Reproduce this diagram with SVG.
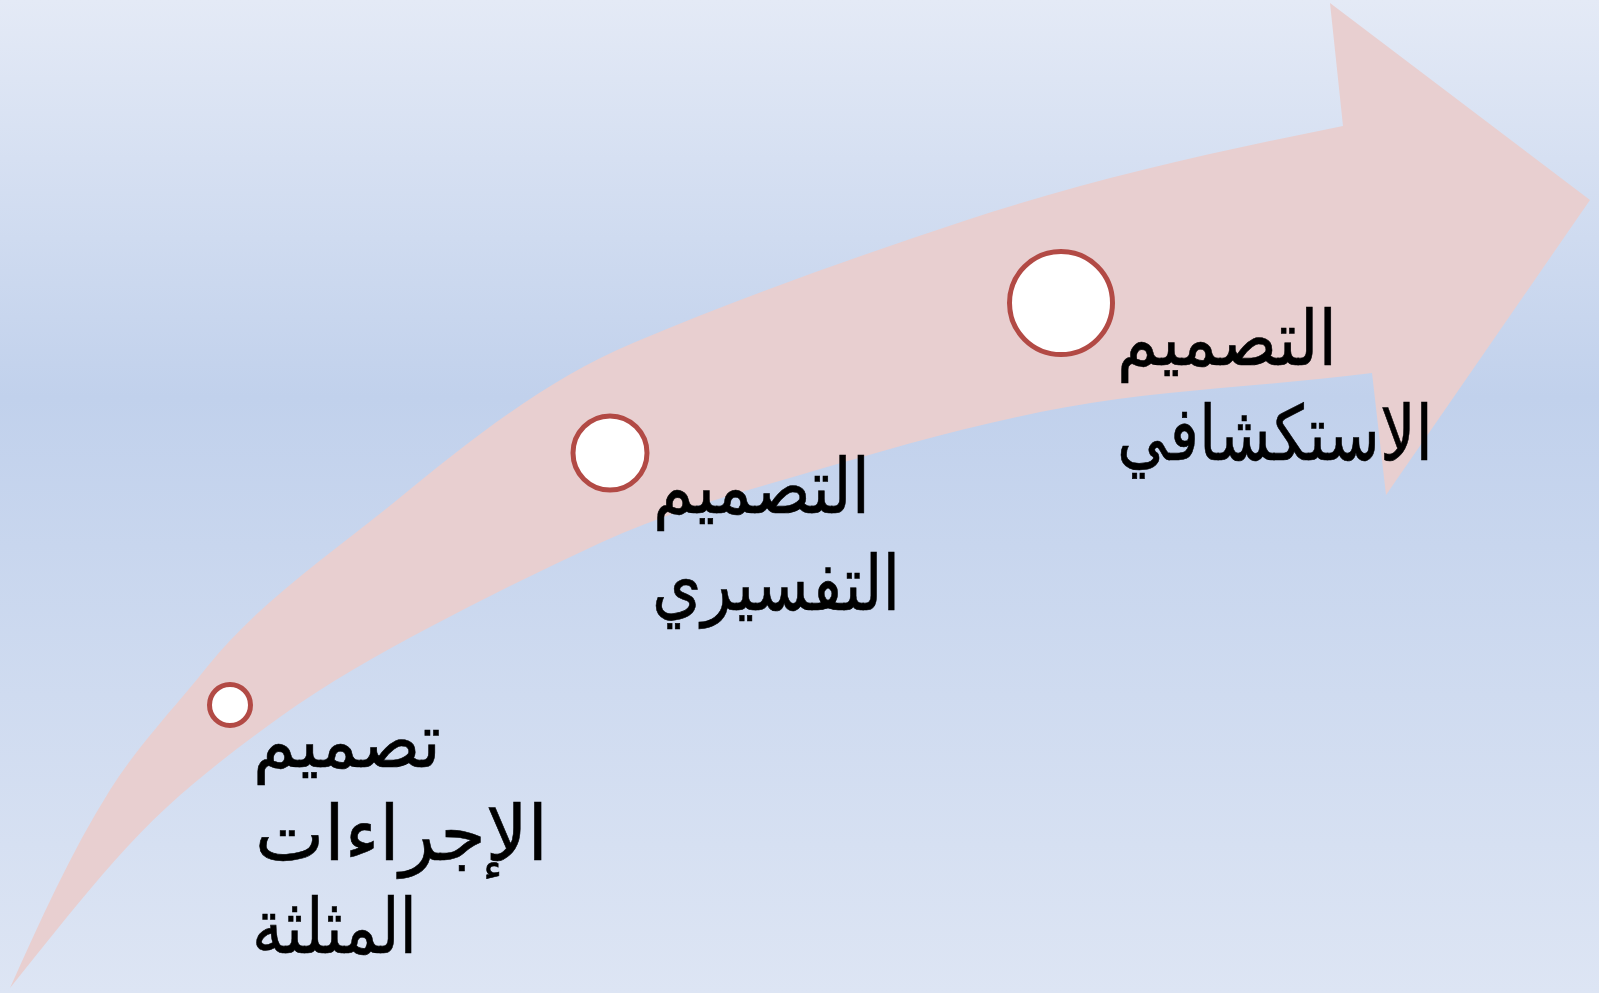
<svg xmlns="http://www.w3.org/2000/svg" width="1599" height="993" viewBox="0 0 1599 993">
<defs>
<linearGradient id="bg" x1="0" y1="0" x2="0" y2="1">
<stop offset="0" stop-color="#E4EAF6"/>
<stop offset="0.40" stop-color="#C1D1EC"/>
<stop offset="1" stop-color="#DDE5F4"/>
</linearGradient>
<style>
.dot{fill:#FFFFFF;stroke:#B24A45;stroke-width:5}
.lbl{font-family:"DejaVu Sans","Liberation Sans",sans-serif;font-size:76px;fill:#000000;stroke:#000000;stroke-width:0.6}
</style>
</defs>
<rect x="0" y="0" width="1599" height="993" fill="url(#bg)"/>
<g id="arrow">
<path fill="#E8CFD0" d="M 1330 3 L 1590 200 L 1386 495 L 1372 373
C 1270.5 386.2 1167.7 388.9 1067 407
C 976.7 423.2 888 449 800 475
C 732.5 494.9 663.8 513.2 600 543
C 542.7 569.7 485.8 597.4 430 627
C 378.5 654.3 327.3 683 280 717
C 240.9 745.1 202.5 774.4 167 807
C 130.5 840.6 98.4 878.7 67 917
C 47.8 940.4 28.9 964.3 10 988
C 40.3 920.6 70.7 852.6 110 790
C 137.8 745.8 174.4 707.8 207 667
C 259.7 601.2 331.8 553.4 397 500
C 470 440.1 545.9 379.6 633 343
C 742.4 297.1 854.3 257.1 967 220
C 1089.7 179.6 1216.4 151.3 1343 126 Z"/>
</g>
<g id="node1">
<circle class="dot" cx="230" cy="705" r="20.5"/>
<text class="lbl" x="253" y="767" textLength="188" lengthAdjust="spacingAndGlyphs">تصميم</text>
<text class="lbl" x="255" y="860" textLength="293" lengthAdjust="spacingAndGlyphs">الإجراءات</text>
<text class="lbl" x="252" y="953" textLength="165" lengthAdjust="spacingAndGlyphs">المثلثة</text>
</g>
<g id="node2">
<circle class="dot" cx="610" cy="453" r="37"/>
<text class="lbl" x="653" y="513" textLength="217" lengthAdjust="spacingAndGlyphs">التصميم</text>
<text class="lbl" x="652" y="610" textLength="248" lengthAdjust="spacingAndGlyphs">التفسيري</text>
</g>
<g id="node3">
<circle class="dot" cx="1061" cy="303" r="51.5"/>
<text class="lbl" x="1117" y="365" textLength="220" lengthAdjust="spacingAndGlyphs">التصميم</text>
<text class="lbl" x="1117" y="460" textLength="316" lengthAdjust="spacingAndGlyphs">الاستكشافي</text>
</g>
</svg>
